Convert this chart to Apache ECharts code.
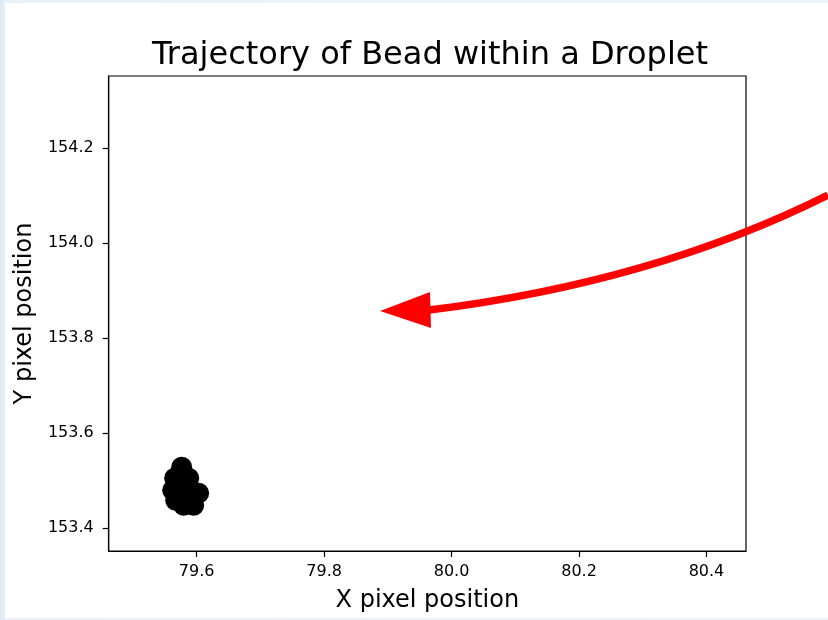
<!DOCTYPE html>
<html>
<head>
<meta charset="utf-8">
<script src="https://cdn.jsdelivr.net/npm/echarts@6/dist/echarts.min.js"></script>
<style>
  html, body { margin: 0; padding: 0; width: 828px; height: 620px; overflow: hidden;
    background: linear-gradient(90deg, #dce8f5 0px, #e9f1fa 6px, #eef4fb 100%); }
  #chart { position: absolute; left: 5px; top: 3px; width: 823px; height: 615px; background: #ffffff; }
</style>
</head>
<body>
<div id="chart"></div>
<script>
// Bead positions (pixel coordinates of the bead in the video frame)
const xPositions = [79.5765, 79.5655, 79.5624, 79.5671, 79.5796, 79.5953, 79.6031, 79.5875, 79.5812, 79.5906, 79.5718, 79.5749];
const yPositions = [153.5284, 153.5053, 153.4800, 153.4589, 153.4484, 153.4484, 153.4737, 153.5053, 153.4842, 153.4695, 153.4968, 153.5179];
const xTicks = [79.6, 79.8, 80.0, 80.2, 80.4];
const yTicks = [153.4, 153.6, 153.8, 154.0, 154.2];
const xRange = [79.462, 80.462];
const yRange = [153.352, 154.352];

const points = xPositions.map((x, i) => [x, yPositions[i]]);
const font = 'DejaVu Sans';

const chart = echarts.init(document.getElementById('chart'), null, { renderer: 'canvas' });
chart.setOption({
  animation: false,
  backgroundColor: '#ffffff',
  title: {
    text: 'Trajectory of Bead within a Droplet',
    left: 420,
    textAlign: 'center',
    top: 32,
    textStyle: { fontFamily: font, fontSize: 32, fontWeight: 'normal', color: '#000' }
  },
  grid: { left: 103, top: 73, right: 82, bottom: 67, show: true, borderColor: '#000', borderWidth: 1.2, backgroundColor: 'transparent' },
  xAxis: {
    type: 'value', min: xRange[0], max: xRange[1],
    name: 'X pixel position', nameLocation: 'middle', nameGap: 38,
    nameTextStyle: { fontFamily: font, fontSize: 24, color: '#000' },
    axisLine: { show: true, lineStyle: { color: '#000', width: 1.2 } },
    axisTick: { show: true, inside: false, length: 6, lineStyle: { color: '#000', width: 1.2 }, customValues: xTicks },
    axisLabel: { fontFamily: font, fontSize: 16, color: '#000', margin: 13, customValues: xTicks,
      formatter: v => v.toFixed(1) },
    splitLine: { show: false }
  },
  yAxis: {
    type: 'value', min: yRange[0], max: yRange[1],
    name: 'Y pixel position', nameLocation: 'middle', nameGap: 67, nameRotate: 90,
    nameTextStyle: { fontFamily: font, fontSize: 24, color: '#000' },
    axisLine: { show: true, lineStyle: { color: '#000', width: 1.2 } },
    axisTick: { show: true, inside: false, length: 6, lineStyle: { color: '#000', width: 1.2 }, customValues: yTicks },
    axisLabel: { fontFamily: font, fontSize: 16, color: '#000', margin: 15, customValues: yTicks,
      formatter: v => v.toFixed(1) },
    splitLine: { show: false }
  },
  series: [{
    type: 'scatter',
    data: points,
    symbol: 'circle',
    symbolSize: 21,
    itemStyle: { color: '#000000', opacity: 1 },
    silent: true
  }],
  graphic: [
    {
      type: 'bezierCurve',
      shape: { x1: 823, y1: 192, cpx1: 648, cpy1: 279.5, x2: 424, y2: 307 },
      style: { stroke: '#ff0000', lineWidth: 7.5, fill: null },
      z: 100
    },
    {
      type: 'polygon',
      shape: { points: [[375, 308], [425, 289], [426, 325]] },
      style: { fill: '#ff0000' },
      z: 101
    }
  ]
});
</script>
</body>
</html>
